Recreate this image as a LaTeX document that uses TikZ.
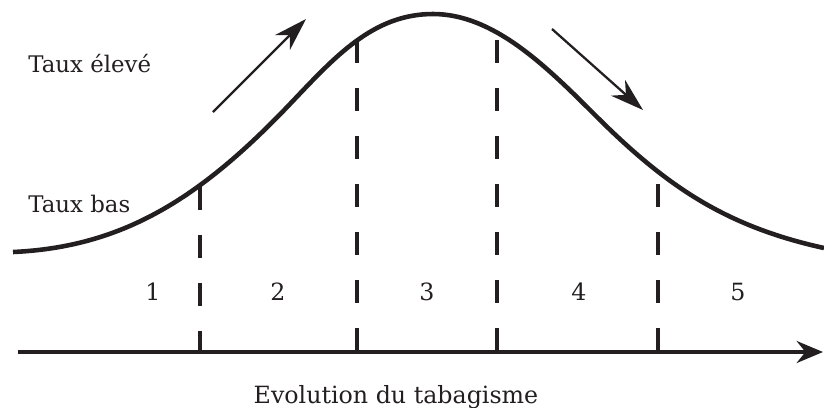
\documentclass[tikz,border=0pt]{standalone}
\usepackage{fontspec}
\setmainfont{DejaVu Serif}
\usetikzlibrary{arrows.meta,positioning}
\definecolor{ink}{HTML}{231F20}
\tikzset{
    bell/.style = {draw=ink, line width=2.6pt},
    phase/.style = {draw=ink, line width=1.9pt, dash pattern=on 13.1pt off 14.2pt},
    trend/.style = {draw=ink, line width=1.3pt, -{Stealth[length=19pt, width=12pt, inset=6pt]}},
    timeline/.style = {draw=ink, line width=2pt, -{Stealth[length=15pt, width=12.5pt, inset=5pt]}},
    rate/.style = {anchor=base west, inner sep=0pt, text=ink, font=\fontsize{13}{15}\selectfont},
    stage/.style = {anchor=base, inner sep=0pt, text=ink, font=\fontsize{13.5}{16}\selectfont},
}
\begin{document}
\begin{tikzpicture}[x=0.2mm, y=-0.2mm]
    \useasboundingbox (0,0) rectangle (824,407);
    % the curve
    \coordinate (left) at (13,252);
    \coordinate (peak) at (433,14);
    \coordinate (right) at (824,248);
    \draw[bell] (left) .. controls (123,247) and (200,198.5) .. (290,104)
        .. controls (335,56.75) and (373,14) .. (peak)
        .. controls (493,14) and (545,65) .. (595,115)
        .. controls (665,185) and (724,226) .. (right);
    \node[rate] (high) at (28,72) {Taux élevé};
    \node[rate] (low) at (28,212) {Taux bas};
    % time axis
    \coordinate (start) at (18,352);
    \coordinate (end) at (823,352);
    \draw[timeline] (start) -- (end);
    \node[anchor=base, inner sep=0pt, text=ink, font=\fontsize{13.5}{16}\selectfont] (xlabel) at (396,403) {Evolution du tabagisme};
    % phases
    \foreach \x/\y [count=\i] in {200/187, 357/40, 497/40, 658/184} {
        \coordinate (top\i) at (\x,\y);
        \coordinate (bot\i) at (\x,352);
        \draw[phase] (top\i) -- (bot\i);
    }
    \foreach \x [count=\i] in {153,278,427,579,738}
        \node[stage] (p\i) at (\x,300) {\i};
    % rise and fall
    \coordinate (riseA) at (213,112);
    \coordinate (riseB) at (306,19);
    \coordinate (fallA) at (552,29);
    \coordinate (fallB) at (643,110);
    \draw[trend] (riseA) -- (riseB);
    \draw[trend] (fallA) -- (fallB);
\end{tikzpicture}
\end{document}
